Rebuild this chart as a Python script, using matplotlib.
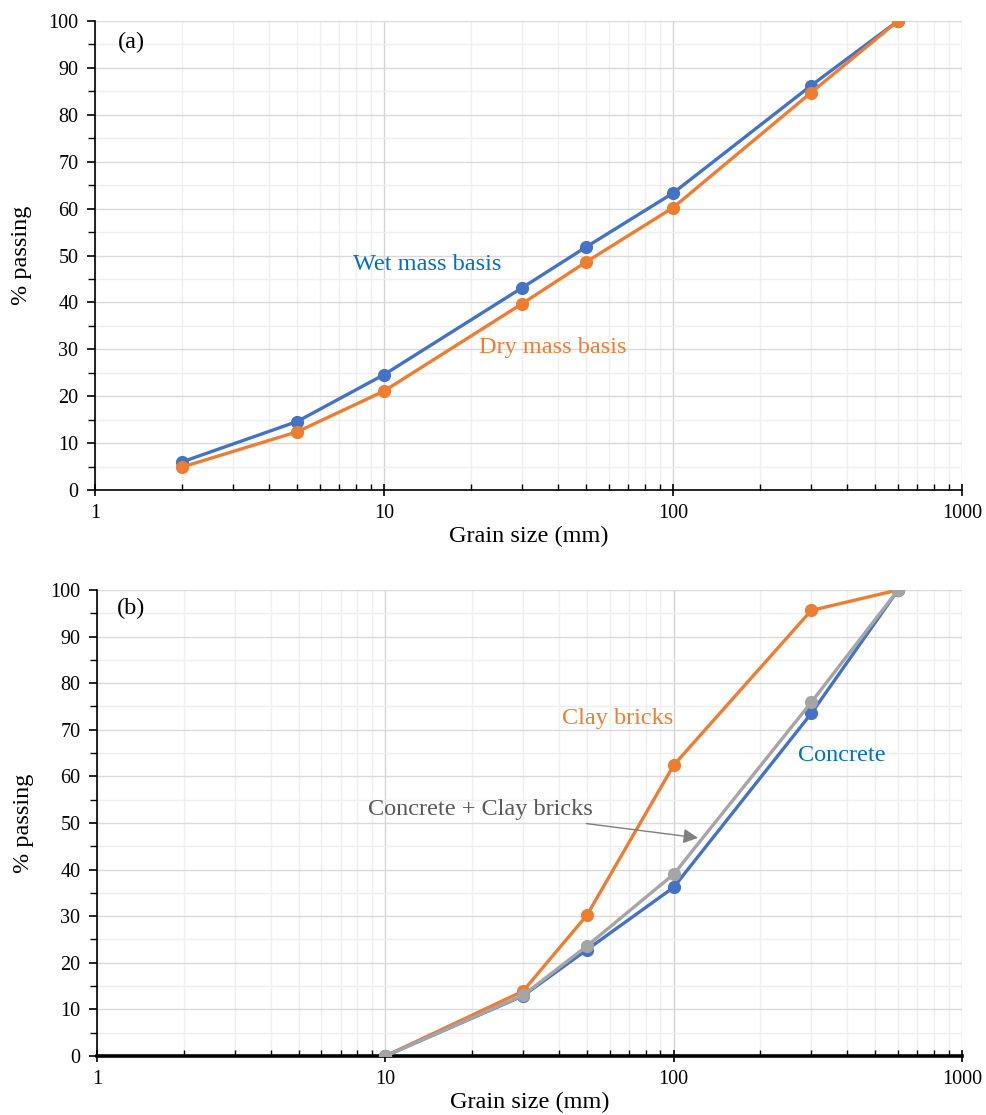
import matplotlib
matplotlib.use("Agg")
import matplotlib.pyplot as plt
from matplotlib.ticker import LogLocator, MultipleLocator, FixedLocator, NullFormatter

plt.rcParams['font.family'] = ['Liberation Serif', 'DejaVu Serif']

# panel (a) data
sizes_a = [2, 5, 10, 30, 50, 100, 300, 600]
wet_mass = [6.0, 14.6, 24.6, 43.1, 51.8, 63.3, 86.2, 100]
dry_mass = [4.9, 12.4, 21.1, 39.7, 48.6, 60.2, 84.7, 100]

# panel (b) data
sizes_b = [10, 30, 50, 100, 300, 600]
clay_bricks = [0, 13.9, 30.2, 62.4, 95.6, 100]
concrete = [0, 12.9, 22.8, 36.2, 73.5, 100]
mixed = [0, 13.0, 23.6, 39.0, 75.9, 100]

BLUE = '#4472C4'
ORANGE = '#ED7D31'
GRAY = '#A5A5A5'
TXT_BLUE = '#0070C0'
TXT_GRAY = '#595959'

LBL = 17.5
TCK = 14.5


def style_axes(ax, thick_bottom=False):
    ax.set_xscale('log')
    ax.set_xlim(1, 1000)
    ax.set_ylim(0, 100)
    ax.yaxis.set_major_locator(MultipleLocator(10))
    ax.yaxis.set_minor_locator(MultipleLocator(5))
    ax.xaxis.set_major_locator(FixedLocator([1, 10, 100, 1000]))
    ax.xaxis.set_minor_locator(LogLocator(base=10, subs=range(2, 10)))
    ax.xaxis.set_minor_formatter(NullFormatter())
    ax.set_xticklabels(['1', '10', '100', '1000'])
    ax.grid(which='minor', color='#EFEFEF', lw=1.0)
    ax.grid(which='major', axis='y', color='#DADADA', lw=1.0)
    ax.grid(which='major', axis='x', color='#D4D4D4', lw=1.0)
    ax.set_axisbelow(True)
    for s in ['top', 'right']:
        ax.spines[s].set_visible(False)
    ax.spines['left'].set_linewidth(1.2)
    ax.spines['bottom'].set_linewidth(2.6 if thick_bottom else 1.2)
    ax.tick_params(which='major', direction='out', length=6, width=1.2, labelsize=TCK, pad=6)
    ax.tick_params(axis='x', which='major', direction='inout', length=8)
    ax.tick_params(axis='x', which='minor', direction='in', length=4, width=1.0)
    ax.tick_params(axis='y', which='minor', direction='out', length=5, width=1.0)
    ax.set_xlabel('Grain size (mm)', fontsize=LBL, labelpad=2)
    ax.set_ylabel('% passing', fontsize=LBL, labelpad=12)


fig = plt.figure(figsize=(9.87, 11.15), dpi=100)
ax1 = fig.add_axes([0.0963, 0.5605, 0.8784, 0.4207])
ax2 = fig.add_axes([0.0983, 0.0529, 0.8764, 0.4180])

style_axes(ax1)
ax1.plot(sizes_a, wet_mass, color=BLUE, lw=2.4, marker='o', ms=8.5, zorder=3)
ax1.plot(sizes_a, dry_mass, color=ORANGE, lw=2.4, marker='o', ms=8.5, zorder=4)
ax1.text(1.34, 95.5, '(a)', fontsize=LBL, ha='center', va='center')
ax1.text(14.1, 48, 'Wet mass basis', color=TXT_BLUE, fontsize=LBL, ha='center', va='center')
ax1.text(38.4, 30.3, 'Dry mass basis', color=ORANGE, fontsize=LBL, ha='center', va='center')

style_axes(ax2, thick_bottom=True)
ax2.plot(sizes_b, clay_bricks, color=ORANGE, lw=2.4, marker='o', ms=8.5, zorder=3)
ax2.plot(sizes_b, concrete, color=BLUE, lw=2.4, marker='o', ms=8.5, zorder=4)
ax2.plot(sizes_b, mixed, color=GRAY, lw=2.4, marker='o', ms=8.5, zorder=5)
ax2.text(1.31, 96.1, '(b)', fontsize=LBL, ha='center', va='center')
ax2.text(64.1, 72.5, 'Clay bricks', color=ORANGE, fontsize=LBL, ha='center', va='center')
ax2.text(384, 64.4, 'Concrete', color=TXT_BLUE, fontsize=LBL, ha='center', va='center')
ax2.annotate('Concrete + Clay bricks', xy=(121.5, 46.8), xytext=(21.3, 52.8),
             color=TXT_GRAY, fontsize=LBL, ha='center', va='center',
             arrowprops=dict(arrowstyle='-|>', color='#7F7F7F', lw=1.0,
                             mutation_scale=22, shrinkA=2, shrinkB=0))

fig.savefig('out.png', dpi=100)
